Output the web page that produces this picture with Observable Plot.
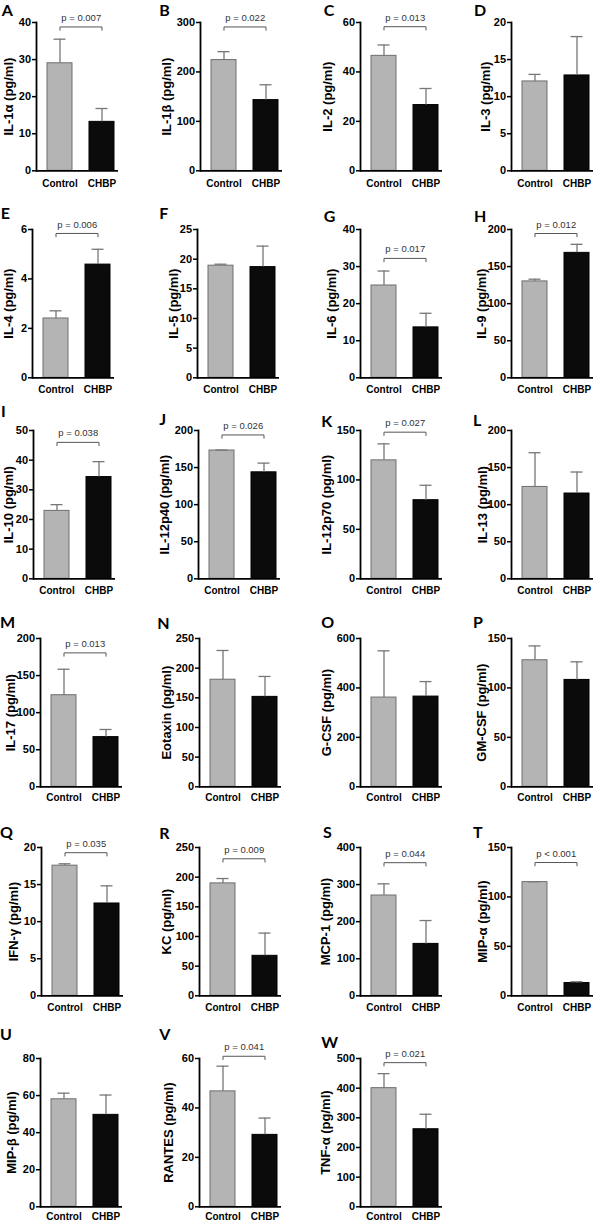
<!DOCTYPE html>
<html>
<head>
<meta charset="utf-8">
<script src="https://cdn.jsdelivr.net/npm/d3@7"></script>
<script src="https://cdn.jsdelivr.net/npm/@observablehq/plot@0.6"></script>
<style>
  html, body { margin: 0; padding: 0; background: #fff; }
  #fig { position: relative; width: 606px; height: 1222px; overflow: hidden; background: #fff; }
</style>
</head>
<body>
<div id="fig"></div>
<script>
// ---------------- data ----------------
const groups = ["Control", "CHBP"];
const panelLetters = ["A","B","C","D","E","F","G","H","I","J","K","L","M","N","O","P","Q","R","S","T","U","V","W"];
const cytokines = ["IL-1α","IL-1β","IL-2","IL-3","IL-4","IL-5","IL-6","IL-9","IL-10","IL-12p40","IL-12p70","IL-13",
                   "IL-17","Eotaxin","G-CSF","GM-CSF","IFN-γ","KC","MCP-1","MIP-α","MIP-β","RANTES","TNF-α"];
const controlMean  = [29.0, 224, 46.5, 12.05, 2.40, 18.9, 24.9, 130, 22.9, 173, 119.8, 123.9,
                      123.5, 180.5, 361, 128, 17.55, 189.5, 270.5, 115, 58, 46.7, 400];
const controlUpper = [35.5, 241, 50.9, 13.0, 2.71, 19.15, 28.8, 133, 25.0, 173.6, 136.5, 170,
                      158.5, 229.8, 550, 142.5, 17.8, 197.7, 302, 115.4, 61.3, 56.9, 449];
const chbpMean     = [13.2, 143, 26.6, 12.86, 4.58, 18.66, 13.6, 168.5, 34.3, 143.6, 79.5, 115,
                      67, 151.6, 365, 108.1, 12.45, 67.4, 140, 12.9, 49.6, 29.1, 261.5];
const chbpUpper    = [16.8, 174, 33.3, 18.1, 5.2, 22.2, 17.4, 180, 39.5, 156, 94.6, 144,
                      77.3, 186, 425.7, 126.4, 14.83, 105.7, 203, 14.2, 60.3, 35.9, 312];
const pLabels      = ["p = 0.007","p = 0.022","p = 0.013",null,"p = 0.006",null,"p = 0.017","p = 0.012",
                      "p = 0.038","p = 0.026","p = 0.027",null,"p = 0.013",null,null,null,
                      "p = 0.035","p = 0.009","p = 0.044","p < 0.001",null,"p = 0.041","p = 0.021"];
const bracketLevel = [38.8, 291, 58.3, null, 5.84, null, 32.2, 194.6, 46, 194, 148.3, null,
                      180.6, null, null, null, 19.3, 231, 359, 134.8, null, 60.9, 486];
const yTicks = [
  [0,10,20,30,40], [0,100,200,300], [0,20,40,60], [0,5,10,15,20],
  [0,2,4,6], [0,5,10,15,20,25], [0,10,20,30,40], [0,50,100,150,200],
  [0,10,20,30,40,50], [0,50,100,150,200], [0,50,100,150], [0,50,100,150,200],
  [0,50,100,150,200], [0,50,100,150,200,250], [0,200,400,600], [0,50,100,150],
  [0,5,10,15,20], [0,50,100,150,200,250], [0,100,200,300,400], [0,50,100,150],
  [0,20,40,60,80], [0,20,40,60], [0,100,200,300,400,500]
];

// ---------------- layout ----------------
const axisX = [35.7,200,360.3,511, 31.7,196.7,359.7,511.3, 33.3,198.3,359.7,511.3,
               40,199.3,359.7,511.3, 40.7,199.3,359.7,511.3, 40,199.3,359.7];
const rowTop = [21.7, 229.3, 430, 637.5, 847, 1058];
const xLabelPad = [8.8, 7.9, 7.9, 7.2, 7.9, 5.6];
const titleOffset = [27.4,33.3,32.3,25.3, 23.4,23.4,28.4,30, 25,33.3,33.4,28.3,
                     30,32.6,33.4,30, 27.4,32.6,35,28.3, 28.3,31,35];
const letterX = [1.7,159.3,323.7,474, 0.7,159.3,323.7,474, 1,159.3,321.3,473,
                 0,157.3,321.3,473, 0,159.3,323,473, 0,159.3,321.3];
const letterBase = [15.9,15.9,15.9,15.9, 219.3,219.3,221.7,221.7, 416.7,425,426.7,426,
                    628.3,629.3,628.3,628.3, 838.3,839.3,838.3,838.3, 1040,1040,1048.3];

const FONT = "'Liberation Sans', Arial, Helvetica, sans-serif";
const frameH = 148.3, mL = 50, mR = 8, mT = 30, mB = 30, xLen = 82;
const pIn = 0.4, pOut = 0.165;
const step = xLen / (groups.length - pIn + 2 * pOut);

const fig = document.getElementById("fig");

panelLetters.forEach((letter, i) => {
  const row = Math.floor(i / 4);
  const ticks = yTicks[i];
  const max = ticks[ticks.length - 1];
  const rows = [
    {group: groups[0], mean: controlMean[i], upper: controlUpper[i]},
    {group: groups[1], mean: chbpMean[i], upper: chbpUpper[i]}
  ];
  const marks = [
    Plot.barY(rows.slice(0, 1), {x: "group", y: "mean", fill: "#b4b4b4", stroke: "#6e6e6e", strokeWidth: 1}),
    Plot.barY(rows.slice(1), {x: "group", y: "mean", fill: "#0b0b0b", stroke: "#000", strokeWidth: 1}),
    Plot.ruleX(rows, {x: "group", y1: "mean", y2: "upper", stroke: "#777", strokeWidth: 1.3}),
    Plot.tickY(rows, {x: "group", y: "upper", stroke: "#777", strokeWidth: 1.3, insetLeft: 6.5, insetRight: 6.5}),
    Plot.ruleY([0], {stroke: "#000", strokeWidth: 1.8}),
    Plot.frame({anchor: "left", stroke: "#000", strokeWidth: 1.8}),
    Plot.axisY({ticks, tickSize: 4, tickPadding: 1.5, fontSize: 11, fontWeight: "bold", label: null,
                stroke: "#000", strokeWidth: 1.5, fill: "#000", tickFormat: d => String(d)}),
    Plot.axisX({tickSize: 0, tickPadding: xLabelPad[row], fontSize: 10, fontWeight: "bold", label: null, fill: "#000"}),
    Plot.text([cytokines[i] + " (pg/ml)"], {frameAnchor: "left", text: d => d, rotate: -90,
                textAnchor: "middle", lineAnchor: "middle",
                dx: -titleOffset[i], fontSize: 13, fontWeight: "bold", fill: "#000"})
  ];
  if (pLabels[i]) {
    const b = bracketLevel[i];
    const drop = 3.3 * max / frameH;
    const pts = [
      {g: groups[0], y: b - drop}, {g: groups[0], y: b},
      {g: groups[1], y: b}, {g: groups[1], y: b - drop}
    ];
    marks.push(Plot.line(pts, {x: "g", y: "y", stroke: "#555", strokeWidth: 1}));
    marks.push(Plot.text([{g: groups[0], y: b, t: pLabels[i]}], {x: "g", y: "y", text: "t",
                dx: step / 2, dy: -9, fontSize: 9.5, fill: "#333"}));
  }
  const chart = Plot.plot({
    width: mL + xLen + mR,
    height: mT + frameH + mB,
    marginLeft: mL, marginRight: mR, marginTop: mT, marginBottom: mB,
    style: {background: "transparent", fontFamily: FONT, overflow: "visible"},
    x: {type: "band", domain: groups, paddingInner: pIn, paddingOuter: pOut, align: 0.714},
    y: {domain: [0, max]},
    marks
  });
  chart.style.position = "absolute";
  chart.style.left = (axisX[i] - mL) + "px";
  chart.style.top = (rowTop[row] - mT) + "px";
  chart.style.maxWidth = "none";
  fig.appendChild(chart);
});

// panel letters
const overlay = d3.create("svg")
  .attr("width", 606).attr("height", 1222)
  .style("position", "absolute").style("left", "0px").style("top", "0px")
  .style("pointer-events", "none");
overlay.selectAll("text").data(panelLetters).join("text")
  .attr("x", (d, i) => letterX[i])
  .attr("y", (d, i) => letterBase[i])
  .attr("font-family", "Lato, 'Open Sans', sans-serif")
  .attr("font-weight", "bold")
  .attr("font-size", 16)
  .attr("fill", "#000")
  .text(d => d);
fig.appendChild(overlay.node());
</script>
</body>
</html>
